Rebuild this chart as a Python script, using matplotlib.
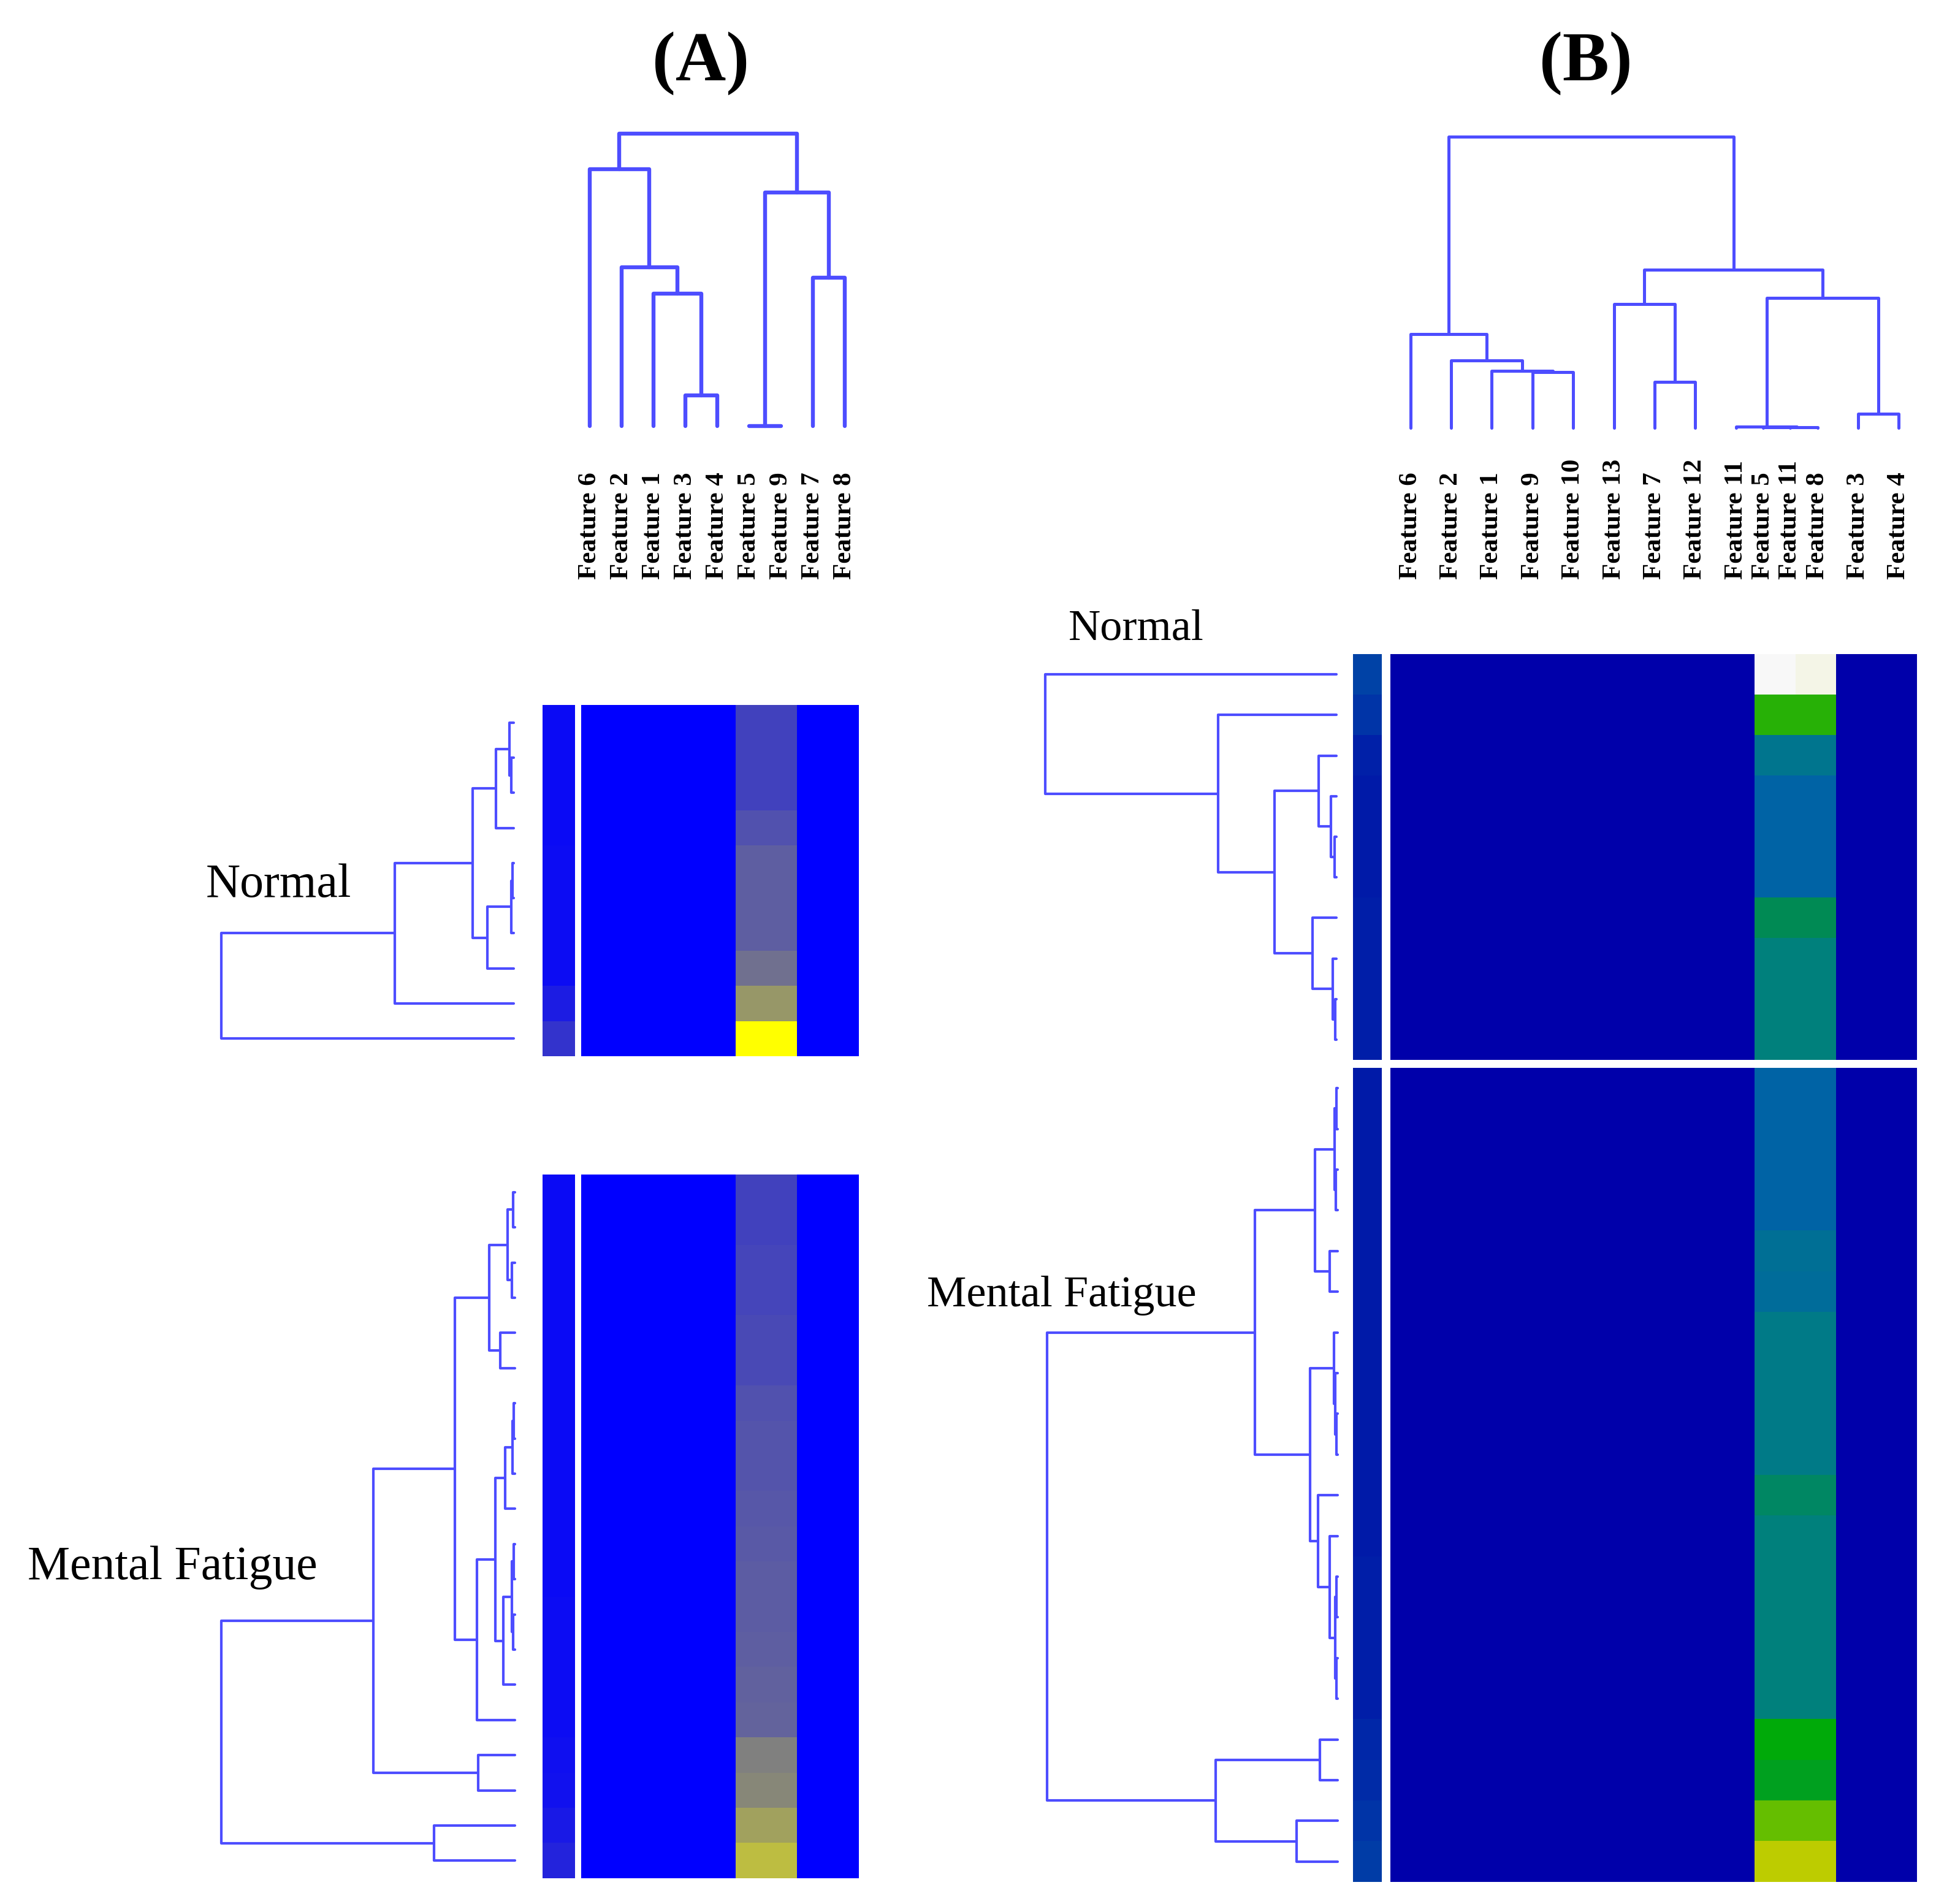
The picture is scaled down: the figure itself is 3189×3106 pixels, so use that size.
import numpy as np
import matplotlib
matplotlib.use('Agg')
from matplotlib import pyplot as plt
from matplotlib.colors import LinearSegmentedColormap

W, H = 3189, 3106                                                    # output size in pixels (dpi 100)
LINE = '#4d4dff'                                                     # dendrogram colour
SERIF = 'Liberation Serif'

# ---- column dendrograms (heights, in pixels) ----
a_cols = ['Feature 6', 'Feature 2', 'Feature 1', 'Feature 3', 'Feature 4',
          'Feature 5', 'Feature 9', 'Feature 7', 'Feature 8']
a_col_pos = [0, 1, 2, 3, 4, 5, 6, 7, 8]
a_col_tree = (477.5,
              (419, 0, (259, 1, (216.5, 2, (50, 3, 4)))),
              (381, (0, 5, 6), (242.5, 7, 8)))

b_cols = ['Feature 6', 'Feature 2', 'Feature 1', 'Feature 9', 'Feature 10',
          'Feature 13', 'Feature 7', 'Feature 12', 'Feature 11', 'Feature 5',
          'Feature 11', 'Feature 8', 'Feature 3', 'Feature 4']
b_col_pos = [0, 1, 2, 3, 4, 5, 6, 7, 8, 8.67, 9.33, 10, 11, 12]
b_col_tree = (475,
              (152.5, 0, (110, 1, (92.5, 2, (90.5, 3, 4)))),
              (257.5,
               (201.5, 5, (75, 6, 7)),
               (211.5, (1.5, 8, (1, (0.5, 9, 10), 11)), (22.5, 12, 13))))

# ---- row dendrograms ----
a_norm_tree = (477, (194, (67, (29, (7, 0, (3.6, 1, 2)), 3),
                              (43, (4, (2, 4, 5), 6), 7)), 8), 9)
a_mf_tree = (479,
             (231,
              (98,
               (42, (12, (3, 0, 1), (5, 2, 3)), (24, 4, 5)),
               (62, (32, (16, (4, (2, 6, 7), 8), 9),
                         (19, (5, (2, 10, 11), (3, 12, 13)), 14)), 15)),
              (60, 16, 17)),
             (132, 18, 19))
b_norm_tree = (475, 0, (193, 1, (101, (29, 2, (9.5, 3, (3, 4, 5))),
                                      (39, 6, (6, 7, (2, 8, 9))))))
b_mf_tree = (474,
             (135,
              (37, (5, (2, 0, 1), (3, 2, 3)), (13, 4, 5)),
              (45, (6.5, 6, (4, 7, (2, 8, 9))),
                   (32, 10, (13, 11, (4, (2, 12, 13), (2, 14, 15)))))),
             (199, (29, 16, 17), (67, 18, 19)))

# ---- heatmap values (0..1) ----
a_norm_first = [0.04, 0.04, 0.04, 0.04, 0.05, 0.05, 0.05, 0.05, 0.11, 0.20]
a_norm_f5    = [0.26, 0.26, 0.26, 0.32, 0.37, 0.37, 0.37, 0.44, 0.59, 1.00]
a_mf_first   = [0.04, 0.04, 0.04, 0.04, 0.04, 0.04, 0.04, 0.04, 0.04, 0.04,
                0.04, 0.04, 0.05, 0.05, 0.05, 0.05, 0.06, 0.07, 0.10, 0.14]
a_mf_f5      = [0.26, 0.26, 0.27, 0.27, 0.29, 0.29, 0.32, 0.33, 0.33, 0.34,
                0.35, 0.36, 0.36, 0.37, 0.38, 0.39, 0.50, 0.53, 0.63, 0.74]

b_norm_first = [0.20, 0.16, 0.10, 0.08, 0.08, 0.08, 0.09, 0.09, 0.09, 0.09]
b_norm_f9    = [1.00, 0.64, 0.36, 0.30, 0.30, 0.30, 0.49, 0.41, 0.41, 0.41]
b_norm_f10   = [0.985, 0.64, 0.36, 0.30, 0.30, 0.30, 0.49, 0.41, 0.41, 0.41]
b_mf_first   = [0.08, 0.08, 0.08, 0.08, 0.08, 0.08, 0.08, 0.08, 0.08, 0.08,
                0.08, 0.08, 0.09, 0.09, 0.09, 0.09, 0.12, 0.13, 0.16, 0.18]
b_mf_f9      = [0.30, 0.30, 0.30, 0.30, 0.34, 0.33, 0.38, 0.38, 0.38, 0.38,
                0.46, 0.41, 0.41, 0.41, 0.41, 0.41, 0.60, 0.57, 0.70, 0.82]

cmap_a = LinearSegmentedColormap.from_list('a', ['#0000ff', '#ffff00'])
cmap_b = LinearSegmentedColormap.from_list('b', [
    (0.00, '#0000aa'), (0.30, '#0064a5'), (0.40, '#008080'), (0.50, '#008c50'),
    (0.60, '#00aa0a'), (0.70, '#64be00'), (0.82, '#becd00'), (1.00, '#f8f8f8')])

fig = plt.figure(figsize=(W / 100, H / 100), dpi=100)


def place(x0, y0, x1, y1):                                           # pixel box (top-left origin) -> axes
  ax = fig.add_axes([x0 / W, 1 - y1 / H, (x1 - x0) / W, (y1 - y0) / H])
  ax.set_axis_off()
  return ax


def walk(node, pos, segs):                                           # collect the U links of a nested tree
  if isinstance(node, int):
    return pos[node], 0.0
  h, left, right = node
  xl, hl = walk(left, pos, segs)
  xr, hr = walk(right, pos, segs)
  segs.append(([xl, xl, xr, xr], [hl, h, h, hr]))
  return (xl + xr) / 2, h


def col_dendro(box, tree, pos, labels, ytop, label_y, lw):
  ax = place(*box)
  segs = []
  walk(tree, pos, segs)
  for xs, hs in segs:
    ax.plot(xs, hs, color=LINE, lw=lw, solid_capstyle='round',
            solid_joinstyle='round', clip_on=False)
  ax.set_xlim(-0.5, pos[-1] + 0.5)
  ax.set_ylim(0, ytop)
  for p, lab in zip(pos, labels):
    ax.text(p, label_y, lab, rotation=90, ha='center', va='bottom',
            family=SERIF, weight='bold', fontsize=31)


def row_dendro(box, tree, nrows, lw):
  ax = place(*box)
  segs = []
  walk(tree, list(range(nrows)), segs)
  for ys, hs in segs:
    ax.plot(hs, ys, color=LINE, lw=lw, solid_capstyle='round',
            solid_joinstyle='round', clip_on=False)
  ax.set_xlim(box[2] - box[0], 0)
  ax.set_ylim(nrows - 0.5, -0.5)


def heat(box0, box1, first, cols, ncol, cmap):
  n = len(first)
  ax0 = place(*box0)
  ax0.imshow(np.array(first).reshape(n, 1), cmap=cmap, vmin=0, vmax=1,
             aspect='auto', interpolation='nearest')
  mat = np.zeros((n, ncol))
  for j, vals in cols.items():
    mat[:, j] = vals
  ax1 = place(*box1)
  ax1.imshow(mat, cmap=cmap, vmin=0, vmax=1, aspect='auto', interpolation='nearest')


# ---- panel A ----
col_dendro((935.6, 200, 1403.6, 695), a_col_tree, a_col_pos, a_cols, 495, -250, 4.6)
row_dendro((338, 1150, 838, 1723), a_norm_tree, len(a_norm_f5), 3.0)
row_dendro((340, 1916, 840, 3064), a_mf_tree, len(a_mf_f5), 3.0)
heat((885, 1150, 938, 1723), (948, 1150, 1400, 1723), a_norm_first,
     {5: a_norm_f5, 6: a_norm_f5}, 9, cmap_a)
heat((885, 1916, 938, 3064), (948, 1916, 1400, 3064), a_mf_first,
     {5: a_mf_f5, 6: a_mf_f5}, 9, cmap_a)

# ---- panel B ----
col_dendro((2267.4, 200, 3130.6, 697.5), b_col_tree, b_col_pos, b_cols, 497.5, -247.5, 3.6)
row_dendro((1680, 1067, 2180, 1729), b_norm_tree, len(b_norm_f9), 3.0)
row_dendro((1682, 1742, 2182, 3070), b_mf_tree, len(b_mf_f9), 3.0)
heat((2207, 1067, 2254, 1729), (2268, 1067, 3127, 1729), b_norm_first,
     {9: b_norm_f9, 10: b_norm_f10}, 13, cmap_b)
heat((2207, 1742, 2254, 3070), (2268, 1742, 3127, 3070), b_mf_first,
     {9: b_mf_f9, 10: b_mf_f9}, 13, cmap_b)

# ---- texts ----
def label(x, y, s, size, **kw):
  fig.text(x / W, 1 - y / H, s, family=SERIF, fontsize=size, va='baseline', **kw)

label(1143, 131, '(A)', 82, ha='center', weight='bold')
label(2587, 131, '(B)', 82, ha='center', weight='bold')
label(336, 1463, 'Normal', 56)
label(45, 2576, 'Mental Fatigue', 56)
label(1743, 1043, 'Normal', 52)
label(1512, 2131, 'Mental Fatigue', 52)

fig.savefig('out.png', dpi=100, facecolor='white')
